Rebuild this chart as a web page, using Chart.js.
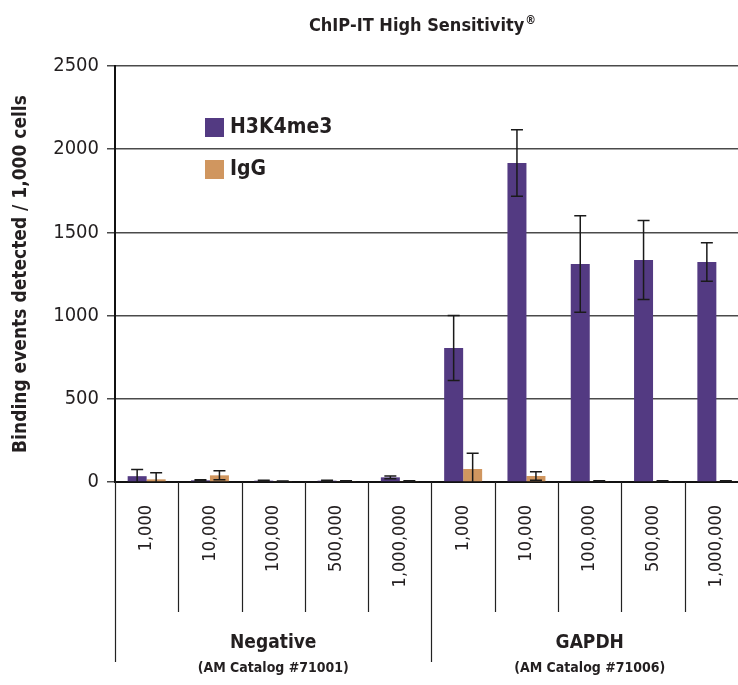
<!DOCTYPE html>
<html>
<head>
<meta charset="utf-8">
<script src="https://cdn.jsdelivr.net/npm/chart.js@4.4.1/dist/chart.umd.min.js"></script>
<style>
    body { margin: 0; overflow: hidden; background: #fff; }
    canvas { display: block; }
</style>
</head>
<body>
<canvas id="chip" width="748" height="685"></canvas>
<script>
// cell numbers for each bar group
const labels = ["1,000", "10,000", "100,000", "500,000", "1,000,000",
                "1,000", "10,000", "100,000", "500,000", "1,000,000"]
const groups = ["Negative", "GAPDH"]
const groupSubs = ["(AM Catalog #71001)", "(AM Catalog #71006)"]

const h3k4me3 = [35, 10, 8, 8, 28, 805, 1917, 1310, 1334, 1322]
const h3k4me3Err = [40, 3, 3, 3, 8, 195, 200, 290, 237, 116]
const igg = [16, 40, 4, 5, 5, 78, 36, 5, 5, 5]
const iggErr = [40, 27, 2, 2, 2, 95, 25, 2, 2, 2]

const yTicks = [0, 500, 1000, 1500, 2000, 2500]

const narrow = "'Liberation Sans Narrow', 'DejaVu Sans Condensed', sans-serif"
const purple = "#533a82"
const orange = "#d0965f"

// error bars, separators, group labels, legend and title
const extras = {
    id: "extras",
    afterDatasetsDraw(chart) {
        const ctx = chart.ctx
        const y = chart.scales.y
        const errs = [h3k4me3Err, iggErr]
        ctx.save()
        ctx.strokeStyle = "#1a1a1a"
        ctx.lineWidth = 1.5
        chart.data.datasets.forEach((ds, i) => {
            chart.getDatasetMeta(i).data.forEach((bar, j) => {
                const v = ds.data[j], e = errs[i][j]
                const top = y.getPixelForValue(v + e)
                const bot = y.getPixelForValue(Math.max(v - e, 0))
                ctx.beginPath()
                ctx.moveTo(bar.x, top); ctx.lineTo(bar.x, bot)
                ctx.moveTo(bar.x - 6, top); ctx.lineTo(bar.x + 6, top)
                if (v - e > 0) { ctx.moveTo(bar.x - 6, bot); ctx.lineTo(bar.x + 6, bot) }
                ctx.stroke()
            })
        })
        ctx.restore()
    },
    afterDraw(chart) {
        const ctx = chart.ctx
        const x = chart.scales.x
        const area = chart.chartArea
        const base = area.bottom
        const step = x.getPixelForValue(1) - x.getPixelForValue(0)
        ctx.save()

        // category separators below the axis
        ctx.strokeStyle = "#222"
        ctx.lineWidth = 1.2
        for (let i = 0; i <= labels.length; i++) {
            const px = x.getPixelForValue(0) - step / 2 + i * step
            const long = i % 5 === 0
            ctx.beginPath()
            ctx.moveTo(Math.round(px) + 0.5, base)
            ctx.lineTo(Math.round(px) + 0.5, long ? 662 : 612)
            ctx.stroke()
        }

        // group labels
        ctx.fillStyle = "#231f20"
        ctx.textAlign = "center"
        ctx.textBaseline = "middle"
        groups.forEach((g, k) => {
            const cx = (x.getPixelForValue(k * 5) + x.getPixelForValue(k * 5 + 4)) / 2
            ctx.font = "bold 19px " + narrow
            ctx.fillText(g, cx, 643)
            ctx.font = "bold 14px " + narrow
            ctx.fillText(groupSubs[k], cx, 668)
        })

        // legend inside the plot
        ctx.textAlign = "left"
        chart.data.datasets.forEach((ds, i) => {
            const ly = 127 + i * 42
            ctx.fillStyle = ds.backgroundColor
            ctx.fillRect(205, ly - 9, 19, 19)
            ctx.fillStyle = "#231f20"
            ctx.font = "bold 21px " + narrow
            ctx.fillText(ds.label, 230, ly + 1)
        })

        // title with superscript mark
        ctx.font = "bold 18px " + narrow
        const t = "ChIP-IT High Sensitivity"
        const w = ctx.measureText(t).width
        ctx.font = "bold 12px " + narrow
        const w2 = ctx.measureText("®").width
        const tx = 422 - (w + w2) / 2
        ctx.font = "bold 18px " + narrow
        ctx.fillText(t, tx, 26)
        ctx.font = "bold 12px " + narrow
        ctx.fillText("®", tx + w + 1, 21)

        ctx.restore()
    }
}

const chipCtx = document.getElementById("chip").getContext("2d")
new Chart(chipCtx, {
    type: "bar",
    data: {
        labels: labels,
        datasets: [{
            label: "H3K4me3",
            data: h3k4me3,
            backgroundColor: purple,
            categoryPercentage: 0.6,
            barPercentage: 1.0
        },
        {
            label: "IgG",
            data: igg,
            backgroundColor: orange,
            categoryPercentage: 0.6,
            barPercentage: 1.0
        }]
    },
    options: {
        responsive: false,
        animation: false,
        layout: { padding: { top: 66, left: 0, right: 0, bottom: 0 } },
        scales: {
            x: {
                grid: { display: false },
                border: { display: true, color: "#111", width: 2 },
                ticks: {
                    color: "#231f20",
                    font: { family: narrow, size: 18 },
                    minRotation: 90,
                    maxRotation: 90,
                    padding: 15,
                    autoSkip: false
                },
                afterFit(scale) {
                    scale.height = 203
                    scale.paddingLeft = 0
                    scale.paddingRight = 0
                }
            },
            y: {
                min: 0,
                max: 2500,
                afterBuildTicks(scale) { scale.ticks = yTicks.map(v => ({ value: v })) },
                grid: { color: "#4a4a4a", lineWidth: 1.5, tickLength: 8 },
                border: { display: true, color: "#111", width: 2 },
                ticks: {
                    color: "#231f20",
                    font: { family: narrow, size: 20 },
                    padding: 8,
                    callback: v => String(v)
                },
                title: {
                    display: true,
                    text: "Binding events detected / 1,000 cells",
                    color: "#231f20",
                    font: { family: narrow, size: 19, weight: "bold" },
                    padding: { top: 10, bottom: 6 }
                },
                afterFit(scale) { scale.width = 115 }
            }
        },
        plugins: {
            legend: { display: false },
            tooltip: { enabled: false }
        }
    },
    plugins: [extras]
});
</script>
</body>
</html>
